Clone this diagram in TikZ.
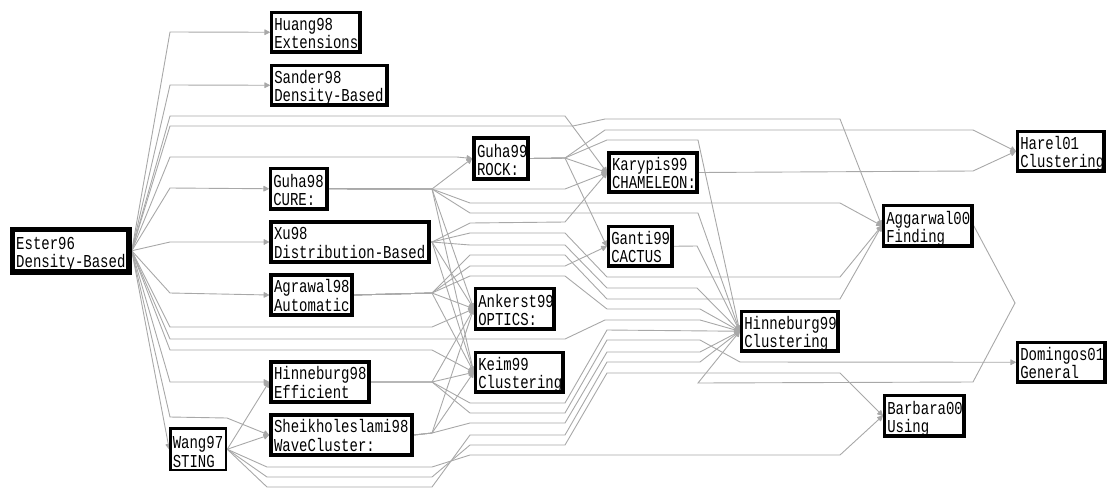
\documentclass[tikz,border=0pt]{standalone}
\usepackage{fontspec}
\usepackage{graphicx}
\setmonofont{Liberation Mono}
\usetikzlibrary{arrows.meta}
\pgfdeclarelayer{bg}
\pgfsetlayers{bg,main}
\definecolor{edgegray}{RGB}{168,168,168}
\newcommand\twol[2]{\smash{\scalebox{1}[1.3]{\begin{tabular}[b]{@{}l@{}}#1\\#2\end{tabular}}}}
\tikzset{
  box/.style={draw=black, fill=white, inner sep=0pt, anchor=north west,
    font=\ttfamily\fontsize{14}{14.2}\selectfont, align=left},
  ed/.style={draw=edgegray, line width=0.9pt, -{Triangle[length=6pt,width=6pt,round]}}
}
\newcommand\bx[8]{% name, x1,y1,x2,y2, bw, l1, l2
  \pgfmathsetmacro\ww{#4-#2-#6}\pgfmathsetmacro\hh{#5-#3-#6}
  \pgfmathsetmacro\dd{#6/2+1.5}\pgfmathsetmacro\th{\hh-\dd}
  \node[box, line width=#6pt, minimum width=\ww pt, minimum height=\hh pt,
    text width=\ww pt-#6pt-2pt, text height=\th pt, text depth=\dd pt,
    inner xsep=#6pt/2+1pt] (#1) at (#2+#6/2, #3+#6/2) {\twol{#7}{#8}};}
\begin{document}
\begin{tikzpicture}[x=1pt,y=-1pt]
\useasboundingbox (0,0) rectangle (1109,488);
% nodes
\bx{ester}{7}{224}{129}{272}{5.5}{Ester96}{Density-Based}
\bx{wang}{168}{426}{226}{470}{2.5}{Wang97}{STING}
\bx{huang}{268}{9}{360}{52}{3.5}{Huang98}{Extensions}
\bx{sander}{268}{62}{387}{105}{3.5}{Sander98}{Density-Based}
\bx{guha98}{267}{165}{327}{209}{3.5}{Guha98}{CURE:}
\bx{xu}{267}{218}{429}{262}{4}{Xu98}{Distribution-Based}
\bx{agrawal}{267}{271}{352}{315}{4}{Agrawal98}{Automatic}
\bx{hinn98}{267}{358}{369}{402}{4}{Hinneburg98}{Efficient}
\bx{sheik}{267}{411}{412}{455}{4}{Sheikholeslami98}{WaveCluster:}
\bx{guha99}{470}{134}{528}{179}{4}{Guha99}{ROCK:}
\bx{karypis}{605}{149}{697}{192}{4}{Karypis99}{CHAMELEON:}
\bx{ganti}{605}{223}{672}{266}{3.5}{Ganti99}{CACTUS}
\bx{ankerst}{472}{285}{554}{329}{3.5}{Ankerst99}{OPTICS:}
\bx{keim}{472}{349}{563}{392}{3.5}{Keim99}{Clustering}
\bx{hinn99}{738}{308}{838}{351}{3.5}{Hinneburg99}{Clustering}
\bx{aggarwal}{880}{202}{972}{246}{3.5}{Aggarwal00}{Finding}
\bx{barbara}{881}{392}{964}{436}{3.5}{Barbara00}{Using}
\bx{harel}{1014}{128}{1104}{171}{3.5}{Harel01}{Clustering}
\bx{domingos}{1014}{339}{1105}{382}{3.5}{Domingos01}{General}
% edges
\begin{pgfonlayer}{bg}
% Ester96
\draw[ed] (ester.east) -- (170,32) -- (huang.west);
\draw[ed] (ester.east) -- (170,85) -- (sander.west);
\draw[ed] (ester.east) -- (170,116) -- (565,116) -- (karypis.west);
\draw[ed] (ester.east) -- (170,126) -- (573,126) -- (605,119) -- (840,119) -- (aggarwal.west);
\draw[ed] (ester.east) -- (170,157) -- (457,157) -- (guha99.west);
\draw[ed] (ester.east) -- (170,188) -- (guha98.west);
\draw[ed] (ester.east) -- (170,242) -- (xu.west);
\draw[ed] (ester.east) -- (170,293) -- (agrawal.west);
\draw[ed] (ester.east) -- (170,327) -- (432,327) -- (ankerst.west);
\draw[ed] (ester.east) -- (170,339) -- (565,339) -- (605,320) -- (700,320) -- (hinn99.west);
\draw[ed] (ester.east) -- (170,350) -- (432,350) -- (keim.west);
\draw[ed] (ester.east) -- (170,382) -- (hinn98.west);
\draw[ed] (ester.east) -- (170,417) -- (227,418) -- (sheik.west);
\draw[ed] (ester.east) -- (wang.west);
% Wang97
\draw[ed] (wang.east) -- (hinn98.west);
\draw[ed] (wang.east) -- (sheik.west);
\draw[ed] (wang.east) -- (267,467) -- (432,467) -- (470,455) -- (840,455) -- (barbara.west);
\draw[ed] (wang.east) -- (267,477) -- (432,477) -- (470,445) -- (565,445) -- (607,373) -- (840,373) -- (barbara.west);
\draw[ed] (wang.east) -- (267,487) -- (432,487) -- (470,435) -- (565,435) -- (607,362) -- (700,362) -- (hinn99.west);
% Guha98
\draw[ed] (guha98.east) -- (432,189) -- (guha99.west);
\draw[ed] (guha98.east) -- (432,189) -- (565,189) -- (karypis.west);
\draw[ed] (guha98.east) -- (432,189) -- (470,203) -- (840,203) -- (aggarwal.west);
\draw[ed] (guha98.east) -- (432,189) -- (470,213) -- (698,213) -- (hinn99.west);
\draw[ed] (guha98.east) -- (432,189) -- (ankerst.west);
\draw[ed] (guha98.east) -- (432,189) -- (keim.west);
% Xu98
\draw[ed] (xu.east) -- (432,242) -- (470,223) -- (565,222) -- (karypis.west);
\draw[ed] (xu.east) -- (432,242) -- (470,233) -- (565,233) -- (607,277) -- (840,277) -- (aggarwal.west);
\draw[ed] (xu.east) -- (432,242) -- (470,245) -- (565,245) -- (607,288) -- (697,288) -- (hinn99.west);
\draw[ed] (xu.east) -- (432,242) -- (ankerst.west);
\draw[ed] (xu.east) -- (432,242) -- (keim.west);
% Agrawal98
\draw[ed] (agrawal.east) -- (432,293) -- (ankerst.west);
\draw[ed] (agrawal.east) -- (432,293) -- (keim.west);
\draw[ed] (agrawal.east) -- (432,293) -- (470,255) -- (565,255) -- (607,299) -- (840,299) -- (aggarwal.west);
\draw[ed] (agrawal.east) -- (432,293) -- (470,266) -- (565,266) -- (ganti.west);
\draw[ed] (agrawal.east) -- (432,293) -- (470,276) -- (565,276) -- (607,309) -- (700,309) -- (hinn99.west);
% Hinneburg98
\draw[ed] (hinn98.east) -- (432,382) -- (ankerst.west);
\draw[ed] (hinn98.east) -- (432,382) -- (keim.west);
\draw[ed] (hinn98.east) -- (432,382) -- (470,403) -- (565,403) -- (607,330) -- (hinn99.west);
\draw[ed] (hinn98.east) -- (432,382) -- (470,413) -- (565,413) -- (607,340) -- (700,340) -- (740,362) -- (domingos.west);
% Sheikholeslami98
\draw[ed] (sheik.east) -- (432,433) -- (ankerst.west);
\draw[ed] (sheik.east) -- (432,433) -- (keim.west);
\draw[ed] (sheik.east) -- (432,433) -- (470,423) -- (565,423) -- (607,352) -- (700,352) -- (hinn99.west);
% Guha99
\draw[ed] (guha99.east) -- (565,158) -- (karypis.west);
\draw[ed] (guha99.east) -- (565,158) -- (ganti.west);
\draw[ed] (guha99.east) -- (565,158) -- (605,130) -- (973,130) -- (harel.west);
\draw[ed] (guha99.east) -- (565,158) -- (607,140) -- (698,140) -- (hinn99.west);
% others
\draw[ed] (karypis.east) -- (973,171) -- (harel.west);
\draw[ed] (ganti.east) -- (697,246) -- (hinn99.west);
\draw[ed] (aggarwal.east) -- (1015,303) -- (973,382) -- (698,383) -- (hinn99.west);
\end{pgfonlayer}
\end{tikzpicture}
\end{document}
